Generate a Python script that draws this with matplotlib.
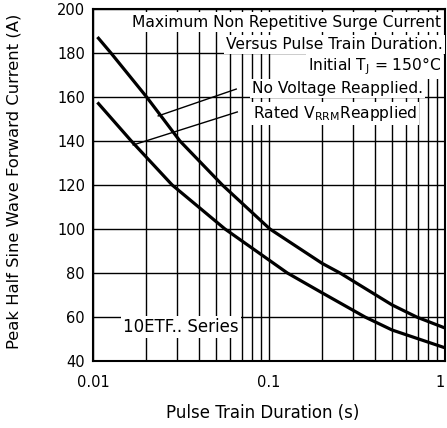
import numpy as np
import matplotlib.pyplot as plt

# curve data (pulse duration in s, current in A)
t_novolt = [0.0107, 0.0126, 0.0201, 0.0311, 0.0542, 0.101, 0.2, 0.253, 0.5, 0.69, 1.0]
i_novolt = [186.7, 180, 160, 140, 120, 100, 84.4, 80, 65.5, 60, 55]

t_rated = [0.0107, 0.01645, 0.0281, 0.0561, 0.127, 0.2, 0.351, 0.5, 1.0]
i_rated = [157, 140, 120, 100, 80, 71, 60, 54.1, 46]

yticks = [40, 60, 80, 100, 120, 140, 160, 180, 200]
xticks = [0.01, 0.1, 1]
xticklabels = ["0.01", "0.1", "1"]

plt.rcParams['font.family'] = ['DejaVu Sans']

fig = plt.figure(figsize=(4.47, 4.28), dpi=100)
ax = fig.add_axes([0.2087, 0.1565, 0.7868, 0.8225])

ax.plot(t_novolt, i_novolt, color='black', linewidth=2.3, zorder=5)
ax.plot(t_rated, i_rated, color='black', linewidth=2.3, zorder=5)

ax.set_xscale('log')
ax.set_xlim(0.01, 1)
ax.set_ylim(40, 200)
ax.set_yticks(yticks)
ax.set_xticks(xticks)
ax.set_xticklabels(xticklabels)
ax.get_xticklabels()[-1].set_horizontalalignment('right')
ax.grid(True, which='major', color='black', linewidth=1.0)
ax.grid(True, which='minor', axis='x', color='black', linewidth=1.0)
ax.tick_params(which='both', length=0, labelsize=10.5)
ax.tick_params(axis='x', pad=10)
ax.tick_params(axis='y', pad=6)
for s in ax.spines.values():
    s.set_linewidth(1.5)

ax.set_xlabel("Pulse Train Duration (s)", fontsize=12)
ax.set_ylabel("Peak Half Sine Wave Forward Current (A)", fontsize=11.8)
ax.xaxis.set_label_coords(0.483, -0.122)
ax.yaxis.set_label_coords(-0.205, 0.51)

box = dict(facecolor='white', edgecolor='none', pad=1.5)
fs = 11.2
ax.text(0.989, 0.963, "Maximum Non Repetitive Surge Current", transform=ax.transAxes,
        ha='right', va='center', fontsize=fs, bbox=box, zorder=3)
ax.text(0.995, 0.898, "Versus Pulse Train Duration.", transform=ax.transAxes,
        ha='right', va='center', fontsize=fs, bbox=box, zorder=3)
ax.text(0.989, 0.838, r"Initial T$_\mathregular{J}$ = 150°C", transform=ax.transAxes,
        ha='right', va='center', fontsize=fs, bbox=box, zorder=3)
ax.text(0.451, 0.773, "No Voltage Reapplied.", transform=ax.transAxes,
        ha='left', va='center', fontsize=fs, bbox=box, zorder=3)
ax.text(0.454, 0.702, r"Rated V$_\mathregular{RRM}$Reapplied", transform=ax.transAxes,
        ha='left', va='center', fontsize=fs, bbox=box, zorder=3)
ax.text(0.25, 0.097, "10ETF.. Series", transform=ax.transAxes,
        ha='center', va='center', fontsize=12, bbox=box, zorder=3)

# leader lines
ax.plot([0.0234, 0.065], [151.4, 163.6], color='black', linewidth=1.0, zorder=4)
ax.plot([0.01686, 0.0659], [138.2, 153.2], color='black', linewidth=1.0, zorder=4)

plt.savefig("out.png")
